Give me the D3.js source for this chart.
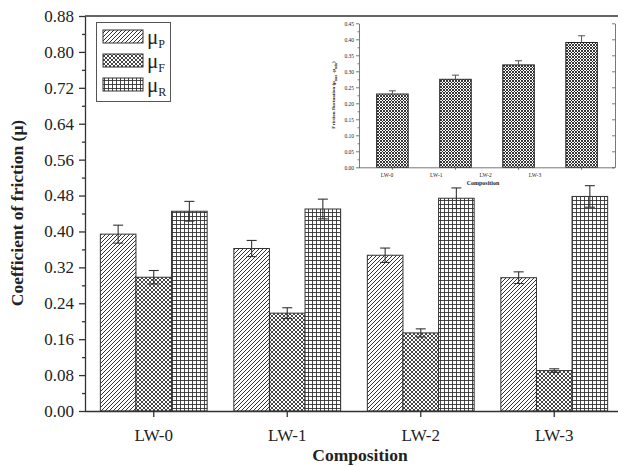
<!DOCTYPE html>
<html>
<head>
<meta charset="UTF-8">
<script src="https://cdn.jsdelivr.net/npm/d3@7"></script>
<style>
  body { margin: 0; background: #fff; }
  text { font-family: "Liberation Serif", "Times New Roman", serif; fill: #222; }
</style>
</head>
<body>
<div id="chart"></div>
<script>
// data
var categories = ["LW-0", "LW-1", "LW-2", "LW-3"];
var series = ["P", "F", "R"];
var muP = [0.394, 0.362, 0.347, 0.297];
var muPErr = [0.020, 0.018, 0.016, 0.013];
var muF = [0.298, 0.218, 0.174, 0.090];
var muFErr = [0.015, 0.012, 0.009, 0.004];
var muR = [0.445, 0.450, 0.474, 0.478];
var muRErr = [0.022, 0.022, 0.023, 0.024];
var yTicks = [0, 0.08, 0.16, 0.24, 0.32, 0.40, 0.48, 0.56, 0.64, 0.72, 0.80, 0.88];

// inset: friction fluctuation
var fluct = [0.229, 0.275, 0.320, 0.390];
var fluctErr = [0.010, 0.013, 0.013, 0.021];
var insetTicks = [0, 0.05, 0.10, 0.15, 0.20, 0.25, 0.30, 0.35, 0.40, 0.45];

var W = 618, H = 466;
var svg = d3.select("#chart").append("svg")
  .attr("width", W).attr("height", H);

// fill patterns
var defs = svg.append("defs");
var pP = defs.append("pattern").attr("id", "patP")
  .attr("patternUnits", "userSpaceOnUse").attr("width", 4).attr("height", 4);
pP.append("rect").attr("width", 4).attr("height", 4).attr("fill", "#fff");
pP.append("path").attr("d", "M-1,1 l2,-2 M0,4 l4,-4 M3,5 l2,-2")
  .attr("stroke", "#333").attr("stroke-width", 1);

var pF = defs.append("pattern").attr("id", "patF")
  .attr("patternUnits", "userSpaceOnUse").attr("width", 4).attr("height", 4);
pF.append("rect").attr("width", 4).attr("height", 4).attr("fill", "#fff");
pF.append("path").attr("d", "M-1,1 l2,-2 M0,4 l4,-4 M3,5 l2,-2 M-1,3 l2,2 M0,0 l4,4 M3,-1 l2,2")
  .attr("stroke", "#333").attr("stroke-width", 0.9);

var pR = defs.append("pattern").attr("id", "patR")
  .attr("patternUnits", "userSpaceOnUse").attr("width", 4).attr("height", 4);
pR.append("rect").attr("width", 4).attr("height", 4).attr("fill", "#fff");
pR.append("path").attr("d", "M0,0.5 h4 M0.5,0 v4")
  .attr("stroke", "#333").attr("stroke-width", 0.9);

var pI = defs.append("pattern").attr("id", "patI")
  .attr("patternUnits", "userSpaceOnUse").attr("width", 3).attr("height", 3);
pI.append("rect").attr("width", 3).attr("height", 3).attr("fill", "#fff");
pI.append("path").attr("d", "M-1,1 l2,-2 M0,3 l3,-3 M2,4 l2,-2 M-1,2 l2,2 M0,0 l3,3 M2,-1 l2,2")
  .attr("stroke", "#222").attr("stroke-width", 0.9);

var fills = { P: "url(#patP)", F: "url(#patF)", R: "url(#patR)" };
var vals = { P: muP, F: muF, R: muR };
var errs = { P: muPErr, F: muFErr, R: muRErr };

// ---- main chart ----
var x0 = d3.scaleBand().domain(categories).range([87, 621])
  .paddingInner(0.2).paddingOuter(0.1);
var x1 = d3.scaleBand().domain(series).range([0, x0.bandwidth()]);
var y = d3.scaleLinear().domain([0, 0.88]).range([411, 16]);

var rows = [];
categories.forEach(function(c, i) {
  series.forEach(function(s) {
    rows.push({ cat: c, s: s, v: vals[s][i], e: errs[s][i] });
  });
});

var main = svg.append("g");
main.selectAll("rect.bar").data(rows).enter().append("rect")
  .attr("class", "bar")
  .attr("x", function(d) { return x0(d.cat) + x1(d.s); })
  .attr("y", function(d) { return y(d.v); })
  .attr("width", x1.bandwidth())
  .attr("height", function(d) { return y(0) - y(d.v); })
  .attr("fill", function(d) { return fills[d.s]; })
  .attr("stroke", "#333").attr("stroke-width", 1);

// error bars
var eb = main.selectAll("g.err").data(rows).enter().append("g")
  .attr("class", "err")
  .attr("transform", function(d) { return "translate(" + (x0(d.cat) + x1(d.s) + x1.bandwidth() / 2) + ",0)"; })
  .attr("stroke", "#333").attr("stroke-width", 1.1);
eb.append("line")
  .attr("y1", function(d) { return y(d.v - d.e); })
  .attr("y2", function(d) { return y(d.v + d.e); });
eb.append("line").attr("x1", -5).attr("x2", 5)
  .attr("y1", function(d) { return y(d.v + d.e); })
  .attr("y2", function(d) { return y(d.v + d.e); });
eb.append("line").attr("x1", -5).attr("x2", 5)
  .attr("y1", function(d) { return y(d.v - d.e); })
  .attr("y2", function(d) { return y(d.v - d.e); });

// axes
var yMinor = yTicks.slice(1).map(function(t) { return t - 0.04; });
var gy = svg.append("g").attr("transform", "translate(85,0)")
  .call(d3.axisLeft(y).tickValues(yTicks).tickFormat(d3.format(".2f")).tickSize(6).tickSizeOuter(0));
svg.append("g").attr("transform", "translate(85,0)")
  .call(d3.axisLeft(y).tickValues(yMinor).tickFormat("").tickSize(3).tickSizeOuter(0))
  .select(".domain").remove();
gy.selectAll("text").attr("font-size", 17).attr("x", -11)
  .style("font-family", "'Liberation Serif', serif");

var gx = svg.append("g").attr("transform", "translate(0,411)")
  .call(d3.axisBottom(x0).tickSize(6).tickSizeOuter(0));
gx.select(".domain").attr("d", "M85,0.5H618");
gx.selectAll("text").attr("font-size", 17).attr("dy", "1.25em")
  .style("font-family", "'Liberation Serif', serif");

svg.selectAll(".tick line, .domain").attr("stroke", "#333").attr("stroke-width", 1.3);

// top frame line
svg.append("line").attr("x1", 85).attr("x2", 618)
  .attr("y1", y(0.88)).attr("y2", y(0.88))
  .attr("stroke", "#333").attr("stroke-width", 1.5);

svg.append("text").attr("x", 360).attr("y", 461)
  .attr("text-anchor", "middle").attr("font-size", 17.5).attr("font-weight", "bold")
  .text("Composition");
svg.append("text").attr("transform", "translate(23,213) rotate(-90)")
  .attr("text-anchor", "middle").attr("font-size", 17.5).attr("font-weight", "bold")
  .text("Coefficient of friction (μ)");

// legend
var leg = svg.append("g");
leg.append("rect").attr("x", 96.5).attr("y", 22.5).attr("width", 74).attr("height", 79)
  .attr("fill", "#fff").attr("stroke", "#555").attr("stroke-width", 1);
series.forEach(function(s, i) {
  var yy = 30 + i * 24;
  leg.append("rect").attr("x", 103).attr("y", yy).attr("width", 40).attr("height", 13)
    .attr("fill", fills[s]).attr("stroke", "#333").attr("stroke-width", 1);
  var t = leg.append("text").attr("x", 147).attr("y", yy + 14).attr("font-size", 21);
  t.append("tspan").text("μ");
  t.append("tspan").attr("font-size", 12).attr("dy", 4).text(s);
});

// ---- inset ----
var xi = d3.scaleBand().domain(categories).range([359, 615])
  .paddingInner(0.5).paddingOuter(0.28);
var xiLab = d3.scalePoint().domain(categories).range([387, 535]);
var yi = d3.scaleLinear().domain([0, 0.45]).range([167.3, 23.3]);

var inset = svg.append("g");
inset.append("rect").attr("x", 359).attr("y", 23).attr("width", 256).attr("height", 144)
  .attr("fill", "#fff");
inset.selectAll("rect.ibar").data(fluct).enter().append("rect")
  .attr("class", "ibar")
  .attr("x", function(d, i) { return xi(categories[i]); })
  .attr("y", function(d) { return yi(d); })
  .attr("width", xi.bandwidth())
  .attr("height", function(d) { return yi(0) - yi(d); })
  .attr("fill", "url(#patI)").attr("stroke", "#222").attr("stroke-width", 1);

var ieb = inset.selectAll("g.ierr").data(fluct).enter().append("g")
  .attr("class", "ierr")
  .attr("transform", function(d, i) { return "translate(" + (xi(categories[i]) + xi.bandwidth() / 2) + ",0)"; })
  .attr("stroke", "#555").attr("stroke-width", 1);
ieb.append("line")
  .attr("y1", function(d) { return yi(d); })
  .attr("y2", function(d, i) { return yi(d + fluctErr[i]); });
ieb.append("line").attr("x1", -3.5).attr("x2", 3.5)
  .attr("y1", function(d, i) { return yi(d + fluctErr[i]); })
  .attr("y2", function(d, i) { return yi(d + fluctErr[i]); });

var insetMinor = insetTicks.slice(1).map(function(t) { return t - 0.025; });
var giy = inset.append("g").attr("transform", "translate(359,0)")
  .call(d3.axisLeft(yi).tickValues(insetTicks).tickFormat(d3.format(".2f")).tickSize(3).tickSizeOuter(0));
inset.append("g").attr("transform", "translate(359,0)")
  .call(d3.axisLeft(yi).tickValues(insetMinor).tickFormat("").tickSize(1.5).tickSizeOuter(0))
  .select(".domain").remove();
giy.selectAll("text").attr("font-size", 5.5).attr("x", -5)
  .style("font-family", "'Liberation Serif', serif");
inset.append("g").attr("transform", "translate(615,0)")
  .call(d3.axisRight(yi).tickValues(insetTicks).tickFormat("").tickSize(-3).tickSizeOuter(0));

var gix = inset.append("g").attr("transform", "translate(0,167.3)")
  .call(d3.axisBottom(xi).tickSize(2.5).tickSizeOuter(0).tickFormat(""));
gix.select(".domain").attr("d", "M359,0.5H615");
inset.append("g").attr("transform", "translate(0,167.3)")
  .selectAll("text").data(categories).enter().append("text")
  .attr("x", function(d) { return xiLab(d); })
  .attr("y", 10).attr("text-anchor", "middle").attr("font-size", 5.5)
  .text(function(d) { return d; });
inset.selectAll(".tick line, .domain").attr("stroke", "#555").attr("stroke-width", 0.8);

inset.append("text").attr("x", 483).attr("y", 185)
  .attr("text-anchor", "middle").attr("font-size", 6).attr("font-weight", "bold")
  .text("Composition");
var iyl = inset.append("text").attr("transform", "translate(335,95) rotate(-90)")
  .attr("text-anchor", "middle").attr("font-size", 5).attr("font-weight", "bold");
iyl.append("tspan").text("Friction fluctuation (μ");
iyl.append("tspan").attr("font-size", 3.5).attr("dy", 1.5).text("max");
iyl.append("tspan").attr("dy", -1.5).text(" -μ");
iyl.append("tspan").attr("font-size", 3.5).attr("dy", 1.5).text("min");
iyl.append("tspan").attr("dy", -1.5).text(")");
</script>
</body>
</html>
